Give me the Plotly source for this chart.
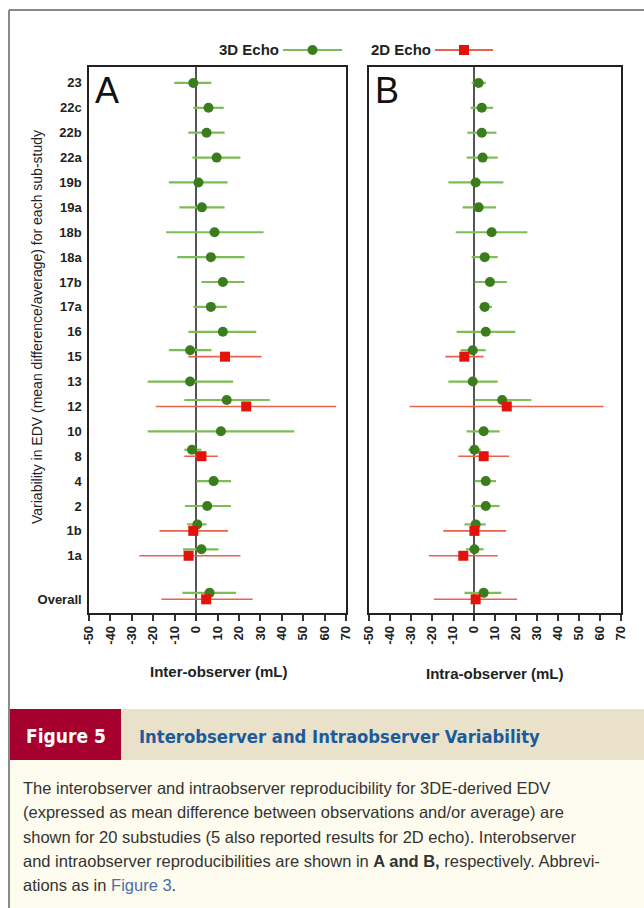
import plotly.graph_objects as go

# ---------------- data ----------------
categories = ["23", "22c", "22b", "22a", "19b", "19a", "18b", "18a", "17b", "17a",
              "16", "15", "13", "12", "10", "8", "4", "2", "1b", "1a", "Overall"]

inter_3d_mean = [-1.3, 5.8, 4.9, 9.6, 1.1, 2.7, 8.6, 6.9, 12.5, 6.9, 12.5, -2.8, -2.8, 14.3, 11.6, -1.9, 8.2, 5.2, 0.6, 2.5, 6.3]
inter_3d_lo = [-10.2, -1.3, -3.6, -1.7, -12.7, -7.8, -14.0, -8.8, 2.5, -1.3, -3.6, -12.7, -22.6, -5.5, -22.6, -5.5, 0.2, -5.2, -4.2, -6.1, -6.4]
inter_3d_hi = [7.1, 12.9, 13.3, 20.7, 14.7, 13.3, 31.5, 22.6, 22.6, 14.4, 28.1, 7.2, 17.3, 34.4, 45.8, 2.5, 16.3, 16.3, 4.9, 10.5, 18.7]

inter_2d_mean = [None] * 11 + [13.5, None, 23.4, None, 2.5, None, None, -1.3, -3.5, 4.7]
inter_2d_lo = [None] * 11 + [-3.6, None, -18.8, None, -5.5, None, None, -17.1, -26.5, -16.2]
inter_2d_hi = [None] * 11 + [30.6, None, 65.4, None, 10.2, None, None, 14.9, 20.7, 26.4]

intra_3d_mean = [2.2, 3.7, 3.7, 4.1, 0.8, 2.2, 8.4, 5.1, 7.6, 5.1, 5.6, -0.6, -0.6, 13.4, 4.6, 0.2, 5.6, 5.6, 0.8, 0.2, 4.6]
intra_3d_lo = [-1.1, -1.6, -3.2, -3.5, -12.2, -5.4, -8.7, -1.1, 0.3, 2.5, -8.3, -6.4, -12.2, 0.3, -3.5, -2.7, 0.3, -1.1, -4.5, -3.8, -4.5]
intra_3d_hi = [5.6, 9.1, 10.7, 11.3, 14.0, 10.5, 25.4, 11.3, 15.7, 8.6, 19.7, 5.6, 11.3, 27.3, 12.2, 3.2, 10.5, 12.2, 5.6, 4.6, 13.0]

intra_2d_mean = [None] * 11 + [-4.6, None, 15.6, None, 4.6, None, None, 0.2, -5.1, 0.8]
intra_2d_lo = [None] * 11 + [-13.7, None, -30.7, None, -7.5, None, None, -14.6, -21.5, -19.1]
intra_2d_hi = [None] * 11 + [4.6, None, 61.7, None, 16.7, None, None, 15.3, 11.3, 20.5]

x_ticks = list(range(-50, 71, 10))

# ---------------- layout helpers ----------------
W, H = 644, 908


def px(x):
    return x / W


def py(y):
    return 1 - y / H


rows = [float(i) for i in range(len(categories) - 1)] + [len(categories) - 1 + 0.75]

GREEN_DOT = "#3b7d1e"
GREEN_BAR = "#7dbd55"
RED_DOT = "#e3120b"
RED_BAR = "#e9624c"


def series(mean, lo, hi, two_d_mean, is_2d):
    xs, ys, ep, em = [], [], [], []
    for i, m in enumerate(mean):
        if m is None:
            continue
        y = rows[i]
        if not is_2d and two_d_mean[i] is not None:
            y -= 0.26
        xs.append(m)
        ys.append(y)
        ep.append(hi[i] - m)
        em.append(m - lo[i])
    return xs, ys, ep, em


fig = go.Figure()

panels = [
    ("x", "y", inter_3d_mean, inter_3d_lo, inter_3d_hi, inter_2d_mean, inter_2d_lo, inter_2d_hi),
    ("x2", "y2", intra_3d_mean, intra_3d_lo, intra_3d_hi, intra_2d_mean, intra_2d_lo, intra_2d_hi),
]

for xa, ya, m3, l3, h3, m2, l2, h2 in panels:
    xs, ys, ep, em = series(m3, l3, h3, m2, False)
    fig.add_trace(go.Scatter(
        x=xs, y=ys, mode="markers", xaxis=xa, yaxis=ya, showlegend=False,
        marker=dict(symbol="circle", size=10, color=GREEN_DOT),
        error_x=dict(type="data", symmetric=False, array=ep, arrayminus=em,
                     width=0, thickness=2.2, color=GREEN_BAR),
    ))
    xs, ys, ep, em = series(m2, l2, h2, m2, True)
    fig.add_trace(go.Scatter(
        x=xs, y=ys, mode="markers", xaxis=xa, yaxis=ya, showlegend=False,
        marker=dict(symbol="square", size=10, color=RED_DOT),
        error_x=dict(type="data", symmetric=False, array=ep, arrayminus=em,
                     width=0, thickness=1.6, color=RED_BAR),
    ))

FONT = "Liberation Sans, Arial, sans-serif"
y_range = [21.3, -0.64]
y_dom = [py(613), py(67)]

common_x = dict(
    range=[-50, 70], tickvals=x_ticks, ticktext=["<b>%d</b>" % v for v in x_ticks],
    tickangle=-90, ticks="outside", ticklen=6, tickwidth=1.5, tickcolor="#333",
    showline=True, mirror=True, linecolor="#222", linewidth=1.5,
    showgrid=False, zeroline=True, zerolinecolor="#555", zerolinewidth=2,
    tickfont=dict(family=FONT, size=13, color="#222"), automargin=False,
)
common_y = dict(
    range=y_range, domain=y_dom, showline=True, mirror=True, linecolor="#222",
    linewidth=1.5, showgrid=False, zeroline=False, ticks="", automargin=False,
)

fig.update_layout(
    width=W, height=H, margin=dict(l=0, r=0, t=0, b=0, pad=0, autoexpand=False),
    paper_bgcolor="white", plot_bgcolor="white",
    font=dict(family=FONT, color="#222"),
    xaxis=dict(domain=[px(89), px(346)], anchor="y", **common_x),
    xaxis2=dict(domain=[px(369), px(621)], anchor="y2", **common_x),
    yaxis=dict(anchor="x", tickvals=rows, ticktext=["<b>%s</b>" % c for c in categories],
               tickfont=dict(family=FONT, size=13, color="#222"), ticklabelstandoff=3,
               **common_y),
    yaxis2=dict(anchor="x2", showticklabels=False, **common_y),
)

shapes = []
ann = []

# outer frame
shapes.append(dict(type="line", xref="paper", yref="paper", x0=px(9), x1=px(9), y0=py(10), y1=0,
                   line=dict(color="#8a8a8a", width=2)))
shapes.append(dict(type="line", xref="paper", yref="paper", x0=px(9), x1=1, y0=py(10), y1=py(10),
                   line=dict(color="#8a8a8a", width=2)))

# caption backgrounds
shapes.append(dict(type="rect", xref="paper", yref="paper", x0=px(10), x1=1, y0=py(760), y1=0,
                   fillcolor="#fefcee", line=dict(width=0), layer="below"))
shapes.append(dict(type="rect", xref="paper", yref="paper", x0=px(10), x1=1, y0=py(760), y1=py(709),
                   fillcolor="#e9e1c9", line=dict(width=0), layer="below"))
shapes.append(dict(type="rect", xref="paper", yref="paper", x0=px(10), x1=px(121), y0=py(760), y1=py(709),
                   fillcolor="#a6002f", line=dict(width=0), layer="below"))

# legend
for x0, x1, col, lab, sym in [(283, 342, GREEN_BAR, "3D Echo", "circle"),
                              (435, 493, RED_BAR, "2D Echo", "square")]:
    shapes.append(dict(type="line", xref="paper", yref="paper", x0=px(x0), x1=px(x1),
                       y0=py(50), y1=py(50), line=dict(color=col, width=2)))
    cx = (x0 + x1) / 2
    if sym == "circle":
        shapes.append(dict(type="circle", xref="paper", yref="paper", x0=px(cx - 5), x1=px(cx + 5),
                           y0=py(55), y1=py(45), fillcolor=GREEN_DOT, line=dict(width=0)))
    else:
        shapes.append(dict(type="rect", xref="paper", yref="paper", x0=px(cx - 5), x1=px(cx + 5),
                           y0=py(55), y1=py(45), fillcolor=RED_DOT, line=dict(width=0)))
    ann.append(dict(text="<b>%s</b>" % lab, xref="paper", yref="paper", x=px(x0 - 2), y=py(50),
                    xanchor="right", yanchor="middle", showarrow=False,
                    font=dict(family=FONT, size=15, color="#222")))

# panel letters
ann.append(dict(text="A", xref="paper", yref="paper", x=px(93), y=py(91), xanchor="left",
                yanchor="middle", showarrow=False, font=dict(family=FONT, size=36, color="#111")))
ann.append(dict(text="B", xref="paper", yref="paper", x=px(373), y=py(91), xanchor="left",
                yanchor="middle", showarrow=False, font=dict(family=FONT, size=36, color="#111")))

# axis titles
ann.append(dict(text="<b>Inter-observer (mL)</b>", xref="paper", yref="paper", x=px(219), y=py(671),
                xanchor="center", yanchor="middle", showarrow=False,
                font=dict(family=FONT, size=15, color="#222")))
ann.append(dict(text="<b>Intra-observer (mL)</b>", xref="paper", yref="paper", x=px(495), y=py(673),
                xanchor="center", yanchor="middle", showarrow=False,
                font=dict(family=FONT, size=15, color="#222")))
ann.append(dict(text="Variability in EDV (mean difference/average) for each sub-study",
                xref="paper", yref="paper", x=px(37), y=py(327), textangle=-90,
                xanchor="center", yanchor="middle", showarrow=False,
                font=dict(family=FONT, size=14, color="#222")))

# caption
NARROW = "DejaVu Sans Condensed, Liberation Sans Narrow, sans-serif"
ann.append(dict(text="<b>Figure 5</b>", xref="paper", yref="paper", x=px(66), y=py(736),
                xanchor="center", yanchor="middle", showarrow=False,
                font=dict(family=NARROW, size=19, color="white")))
ann.append(dict(text="<b>Interobserver and Intraobserver Variability</b>", xref="paper", yref="paper",
                x=px(137), y=py(736), xanchor="left", yanchor="middle", showarrow=False,
                font=dict(family=NARROW, size=18.3, color="#1b5b9c")))

cap_lines = [
    "The interobserver and intraobserver reproducibility for 3DE-derived EDV",
    "(expressed as mean difference between observations and/or average) are",
    "shown for 20 substudies (5 also reported results for 2D echo). Interobserver",
    "and intraobserver reproducibilities are shown in <b>A and B,</b> respectively. Abbrevi-",
    "ations as in <span style='color:#4a6ea8'>Figure 3</span>.",
]
for i, line in enumerate(cap_lines):
    ann.append(dict(text=line, xref="paper", yref="paper", x=px(21), y=py(788 + i * 24.3),
                    xanchor="left", yanchor="middle", showarrow=False,
                    font=dict(family=FONT, size=16.5, color="#333")))

fig.update_layout(shapes=shapes, annotations=ann)

fig.write_html("out.html", config={"displayModeBar": False},
               post_script="document.body.style.margin='0';document.body.style.overflow='hidden';")
